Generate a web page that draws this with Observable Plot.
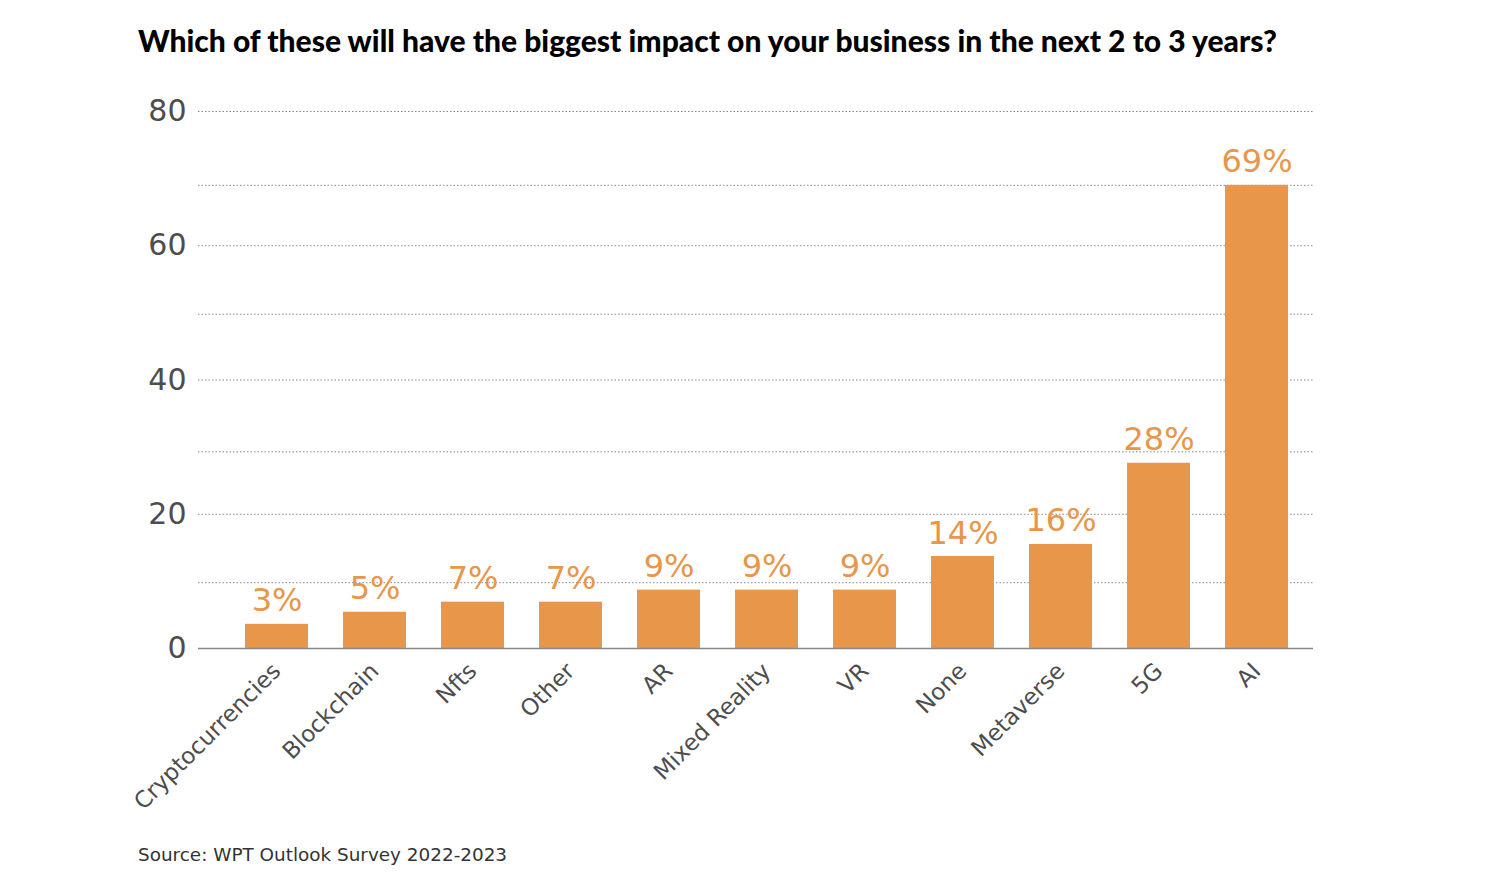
<!DOCTYPE html>
<html>
<head>
<meta charset="utf-8">
<script src="https://cdn.jsdelivr.net/npm/d3@7"></script>
<script src="https://cdn.jsdelivr.net/npm/@observablehq/plot@0.6"></script>
<style>
  html, body { margin: 0; padding: 0; background: #fff; }
  #wrap { position: relative; width: 1508px; height: 884px; overflow: hidden; }
  #title { position: absolute; left: 138px; top: 25px; font-family: Lato, sans-serif; font-weight: 900; font-size: 29px; line-height: 1; color: #000; white-space: nowrap; }
  #chart { position: absolute; left: 0; top: 80px; }
  #source { position: absolute; left: 138px; top: 846px; font-family: "DejaVu Sans", sans-serif; font-size: 18.4px; line-height: 1; color: #333; white-space: nowrap; }
</style>
</head>
<body>
<div id="wrap">
  <div id="title">Which of these will have the biggest impact on your business in the next 2 to 3 years?</div>
  <div id="chart"></div>
  <div id="source">Source: WPT Outlook Survey 2022-2023</div>
</div>
<script>
const categories = ["Cryptocurrencies", "Blockchain", "Nfts", "Other", "AR", "Mixed Reality", "VR", "None", "Metaverse", "5G", "AI"];
const values = [3.6, 5.4, 6.9, 6.9, 8.7, 8.7, 8.7, 13.7, 15.5, 27.6, 69];
const valueLabels = ["3%", "5%", "7%", "7%", "9%", "9%", "9%", "14%", "16%", "28%", "69%"];
const yTicks = [0, 20, 40, 60, 80];
const majorGrid = [20, 40, 60, 80];
const minorGrid = [9.8, 29.3, 49.8, 69];

const data = categories.map((c, i) => ({cat: c, value: values[i], label: valueLabels[i]}));

const orange = "#E8964A";
const tickColor = "#4d4d4d";

const chart = Plot.plot({
  width: 1508,
  height: 750,
  marginTop: 31,
  marginBottom: 182,
  marginLeft: 209,
  marginRight: 185,
  style: {fontFamily: "'DejaVu Sans', sans-serif", background: "transparent"},
  x: {domain: categories, padding: 0.36, axis: null},
  y: {domain: [0, 80], axis: null},
  marks: [
    Plot.ruleY(majorGrid, {stroke: "#888", strokeWidth: 1, strokeDasharray: "1.5,2", insetLeft: -11, insetRight: 10}),
    Plot.ruleY(minorGrid, {stroke: "#888", strokeWidth: 1, strokeDasharray: "1.5,2", insetLeft: -11, insetRight: 10}),
    Plot.barY(data, {x: "cat", y: "value", fill: orange}),
    Plot.ruleY([0], {stroke: "#888", strokeWidth: 1.5, insetLeft: -11, insetRight: 10}),
    Plot.axisY(yTicks, {tickSize: 0, tickPadding: 23, fontSize: 30, fill: tickColor, label: null}),
    Plot.text(data, {x: "cat", y: "value", text: "label", dy: -13, lineAnchor: "bottom", fill: orange, fontSize: 32}),
    Plot.text(data, {x: "cat", frameAnchor: "bottom", text: "cat", rotate: -45, textAnchor: "end", dx: 5, dy: 24, fill: tickColor, fontSize: 23})
  ]
});
document.getElementById("chart").appendChild(chart);

// fit title width to reference span
const t = document.getElementById("title");
const w = t.getBoundingClientRect().width;
if (w > 0) t.style.fontSize = (29 * 1139 / w).toFixed(2) + "px";
</script>
</body>
</html>
